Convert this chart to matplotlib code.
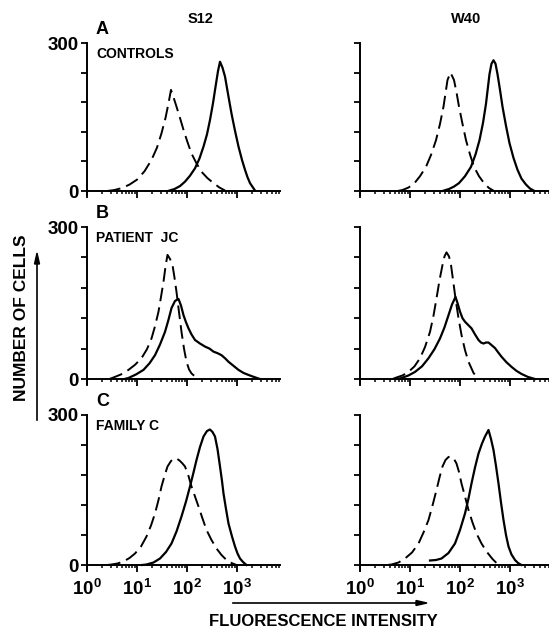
import numpy as np
import matplotlib
matplotlib.use("Agg")
import matplotlib.pyplot as plt
from matplotlib.ticker import FixedLocator, LogLocator, NullFormatter, FixedFormatter

plt.rcParams['font.family'] = ['Liberation Sans', 'DejaVu Sans']
plt.rcParams['mathtext.fontset'] = 'custom'
plt.rcParams['mathtext.rm'] = 'Liberation Sans:bold'
plt.rcParams['mathtext.it'] = 'Liberation Sans:bold'
plt.rcParams['mathtext.bf'] = 'Liberation Sans:bold'

# log10(fluorescence) and number of cells
a_s12_dash_x = [0.40, 0.55, 0.70, 0.85, 1.00, 1.15, 1.29, 1.40, 1.49, 1.57, 1.63, 1.68, 1.73,
                1.79, 1.86, 1.93, 2.01, 2.09, 2.19, 2.29, 2.41, 2.53, 2.65, 2.76]
a_s12_dash_y = [0, 2, 6, 13, 23, 40, 63, 88, 117, 148, 178, 205, 190,
                171, 148, 124, 99, 76, 56, 39, 26, 16, 7, 1]
a_s12_solid_x = [1.62, 1.75, 1.86, 1.96, 2.06, 2.16, 2.25, 2.33, 2.40, 2.46, 2.52, 2.57, 2.62,
                 2.66, 2.71, 2.76, 2.82, 2.89, 2.96, 3.03, 3.10, 3.16, 3.21, 3.26, 3.36]
a_s12_solid_y = [0, 4, 10, 19, 31, 46, 66, 90, 115, 144, 178, 211, 243,
                 262, 250, 232, 197, 157, 122, 90, 63, 43, 28, 16, 1]

a_w40_dash_x = [0.75, 0.85, 0.97, 1.09, 1.20, 1.32, 1.42, 1.52, 1.60, 1.67, 1.75, 1.81,
                1.88, 1.93, 1.98, 2.05, 2.12, 2.20, 2.28, 2.38, 2.48, 2.58, 2.68]
a_w40_dash_y = [0, 2, 7, 16, 30, 49, 73, 103, 136, 171, 225, 240,
                225, 200, 171, 136, 103, 74, 49, 30, 16, 6, 0]
a_w40_solid_x = [1.65, 1.78, 1.88, 1.98, 2.10, 2.22, 2.31, 2.39, 2.46, 2.52, 2.59, 2.63, 2.67,
                 2.71, 2.75, 2.80, 2.85, 2.92, 2.99, 3.07, 3.15, 3.23, 3.32, 3.40, 3.49]
a_w40_solid_y = [0, 4, 9, 16, 30, 49, 74, 103, 138, 177, 237, 258, 265,
                 258, 237, 205, 171, 132, 97, 67, 43, 25, 13, 5, 0]

b_s12_dash_x = [0.45, 0.53, 0.68, 0.83, 0.96, 1.09, 1.20, 1.29, 1.36, 1.43, 1.48, 1.53, 1.57,
                1.61, 1.66, 1.71, 1.75, 1.79, 1.84, 1.89, 1.94, 1.99, 2.04, 2.09, 2.17, 2.26]
b_s12_dash_y = [0, 3, 9, 18, 28, 41, 59, 80, 104, 133, 162, 192, 222,
                245, 237, 225, 200, 172, 132, 93, 60, 34, 19, 11, 4, 0]
b_s12_solid_x = [0.75, 0.83, 0.98, 1.13, 1.25, 1.36, 1.46, 1.56, 1.63, 1.69, 1.76, 1.83, 1.88,
                 1.93, 1.98, 2.03, 2.09, 2.16, 2.26, 2.36, 2.45, 2.53, 2.61, 2.69, 2.76, 2.83,
                 2.93, 3.03, 3.13, 3.23, 3.34, 3.46]
b_s12_solid_y = [0, 2, 9, 18, 31, 47, 68, 93, 117, 140, 154, 158, 145,
                 126, 112, 100, 88, 77, 70, 64, 60, 54, 51, 47, 41, 34,
                 26, 18, 12, 8, 4, 0]

b_w40_dash_x = [0.65, 0.73, 0.85, 0.97, 1.09, 1.20, 1.30, 1.40, 1.47, 1.53, 1.59, 1.65,
                1.69, 1.73, 1.78, 1.82, 1.86, 1.91, 1.97, 2.03, 2.10, 2.17, 2.27, 2.37]
b_w40_dash_y = [0, 3, 7, 14, 25, 41, 63, 93, 125, 159, 195, 225,
                242, 250, 242, 225, 196, 159, 120, 87, 57, 34, 12, 0]
b_w40_solid_x = [0.75, 0.83, 0.97, 1.10, 1.24, 1.37, 1.49, 1.60, 1.69, 1.77, 1.84, 1.91,
                 1.95, 2.00, 2.05, 2.10, 2.16, 2.23, 2.30, 2.37, 2.42, 2.47, 2.52, 2.57,
                 2.63, 2.70, 2.76, 2.83, 2.93, 3.03, 3.13, 3.23, 3.36, 3.50]
b_w40_solid_y = [0, 2, 7, 14, 25, 41, 59, 80, 102, 126, 147, 162,
                 150, 133, 120, 113, 107, 100, 88, 77, 72, 70, 72, 72,
                 67, 61, 53, 44, 33, 24, 16, 10, 4, 0]

c_s12_dash_x = [0.40, 0.49, 0.61, 0.73, 0.85, 0.96, 1.08, 1.19, 1.28, 1.36, 1.43, 1.49, 1.55,
                1.61, 1.68, 1.74, 1.79, 1.85, 1.91, 1.96, 2.03, 2.09, 2.16, 2.23, 2.31, 2.39,
                2.49, 2.59, 2.69, 2.79, 2.89, 2.99]
c_s12_dash_y = [0, 1, 3, 7, 14, 23, 37, 57, 79, 103, 130, 157, 178,
                197, 208, 213, 213, 209, 203, 197, 178, 157, 137, 117, 93, 70,
                50, 33, 20, 10, 4, 0]
c_s12_solid_x = [1.10, 1.19, 1.33, 1.46, 1.58, 1.69, 1.79, 1.89, 1.98, 2.06, 2.13, 2.19, 2.26,
                 2.33, 2.40, 2.46, 2.51, 2.56, 2.61, 2.66, 2.70, 2.73, 2.78, 2.83, 2.90, 2.96,
                 3.01, 3.06, 3.12, 3.19]
c_s12_solid_y = [0, 1, 5, 13, 26, 43, 67, 97, 127, 157, 185, 210, 236,
                 257, 268, 271, 266, 257, 232, 197, 168, 143, 112, 83, 57, 37,
                 23, 13, 6, 0]

c_w40_dash_x = [0.55, 0.63, 0.77, 0.90, 1.04, 1.17, 1.27, 1.37, 1.45, 1.53, 1.59, 1.65, 1.71,
                1.77, 1.82, 1.88, 1.93, 1.98, 2.03, 2.10, 2.17, 2.25, 2.33, 2.43, 2.53, 2.65, 2.77]
c_w40_dash_y = [0, 1, 5, 13, 25, 43, 65, 90, 119, 150, 175, 197, 210,
                216, 217, 212, 203, 186, 163, 137, 110, 85, 63, 43, 27, 12, 0]
c_w40_solid_x = [1.40, 1.52, 1.63, 1.77, 1.90, 2.00, 2.10, 2.17, 2.23, 2.30, 2.37, 2.44, 2.50,
                 2.57, 2.62, 2.67, 2.72, 2.77, 2.82, 2.87, 2.92, 2.97, 3.03, 3.10, 3.16, 3.23]
c_w40_solid_y = [9, 10, 13, 24, 43, 70, 103, 133, 163, 195, 223, 243, 257,
                 270, 252, 230, 198, 163, 125, 90, 60, 37, 21, 10, 4, 0]

columns = ["S12", "W40"]
row_letters = ["A", "B", "C"]
row_names = ["CONTROLS", "PATIENT  JC", "FAMILY C"]
y_ticks = [0, 60, 120, 180, 240, 300]
y_labels = ["0", "", "", "", "", "300"]
x_ticks = [1, 10, 100, 1000]
x_labels = ["$10^{0}$", "$10^{1}$", "$10^{2}$", "$10^{3}$"]

W, H = 549, 634
fig = plt.figure(figsize=(W / 100, H / 100), dpi=100)

def fx(px):
    return px / W

def fy(py):
    return 1 - py / H

# panel geometry in pixels: (top of 300, line of 0)
rows_px = [(43, 191), (227, 379), (415, 565)]
cols_px = [(87, 193, 3.86), (360, 189, 3.78)]

curves = [
    [(a_s12_dash_x, a_s12_dash_y, a_s12_solid_x, a_s12_solid_y),
     (a_w40_dash_x, a_w40_dash_y, a_w40_solid_x, a_w40_solid_y)],
    [(b_s12_dash_x, b_s12_dash_y, b_s12_solid_x, b_s12_solid_y),
     (b_w40_dash_x, b_w40_dash_y, b_w40_solid_x, b_w40_solid_y)],
    [(c_s12_dash_x, c_s12_dash_y, c_s12_solid_x, c_s12_solid_y),
     (c_w40_dash_x, c_w40_dash_y, c_w40_solid_x, c_w40_solid_y)],
]

ymin = -9
for r, (top, zero) in enumerate(rows_px):
    ppu = (zero - top) / 300.0
    bottom = zero - ymin * ppu
    for c, (left, width, xmax) in enumerate(cols_px):
        ax = fig.add_axes([fx(left), fy(bottom), fx(width), (bottom - top) / H])
        dx, dy, sx, sy = curves[r][c]
        ax.plot(10 ** np.array(dx), dy, color='black', lw=1.4, dashes=(7, 3.2))
        ax.plot(10 ** np.array(sx), sy, color='black', lw=1.6)
        ax.set_xscale('log')
        ax.set_xlim(1, 10 ** xmax)
        ax.set_ylim(ymin, 300)
        ax.patch.set_visible(False)
        for s in ['top', 'right']:
            ax.spines[s].set_visible(False)
        ax.spines['bottom'].set_position(('data', 0))
        ax.spines['left'].set_linewidth(1.4)
        ax.spines['bottom'].set_linewidth(1.4)
        ax.yaxis.set_major_locator(FixedLocator(y_ticks))
        ax.yaxis.set_major_formatter(FixedFormatter(y_labels))
        ax.xaxis.set_major_locator(FixedLocator(x_ticks))
        ax.xaxis.set_minor_locator(LogLocator(base=10, subs=np.arange(2, 10), numticks=20))
        ax.xaxis.set_minor_formatter(NullFormatter())
        if r == 2:
            ax.xaxis.set_major_formatter(FixedFormatter(x_labels))
        else:
            ax.xaxis.set_major_formatter(NullFormatter())
        ax.tick_params(axis='x', which='major', direction='out', length=5, width=1.3,
                       pad=5, labelsize=13.5)
        ax.tick_params(axis='x', which='minor', direction='out', length=2.5, width=1.1)
        ax.tick_params(axis='y', direction='out', length=4, width=1.3, pad=2,
                       labelsize=13.5)
        for lab in ax.get_yticklabels():
            lab.set_fontweight('bold')
        if c == 1:
            ax.set_yticklabels([""] * len(y_ticks))

    # row letter and row name
    fig.text(fx(96), fy(top - 13), row_letters[r], fontsize=13, fontweight='bold',
             ha='left', va='center')
    fig.text(fx(96), fy(top + 11), row_names[r], fontsize=10, fontweight='bold',
             ha='left', va='center')

fig.text(fx(201), fy(19), columns[0], fontsize=10.5, fontweight='bold', ha='center', va='center')
fig.text(fx(466), fy(19), columns[1], fontsize=10.5, fontweight='bold', ha='center', va='center')

fig.text(fx(22), fy(318), "NUMBER OF CELLS", fontsize=12.5, fontweight='bold', rotation=90,
         ha='center', va='center')
fig.text(fx(323), fy(622), "FLUORESCENCE INTENSITY", fontsize=12, fontweight='bold',
         ha='center', va='center')

fig.add_artist(plt.Line2D([fx(37), fx(37)], [fy(420), fy(262)], color='black', lw=1.2))
fig.add_artist(plt.Polygon([[fx(37), fy(253)], [fx(34.5), fy(264)], [fx(39.5), fy(264)]],
                           closed=True, color='black', transform=fig.transFigure))
fig.add_artist(plt.Line2D([fx(233), fx(418)], [fy(603), fy(603)], color='black', lw=1.2))
fig.add_artist(plt.Polygon([[fx(427), fy(603)], [fx(416), fy(600.5)], [fx(416), fy(605.5)]],
                           closed=True, color='black', transform=fig.transFigure))

fig.savefig("out.png", dpi=100)
